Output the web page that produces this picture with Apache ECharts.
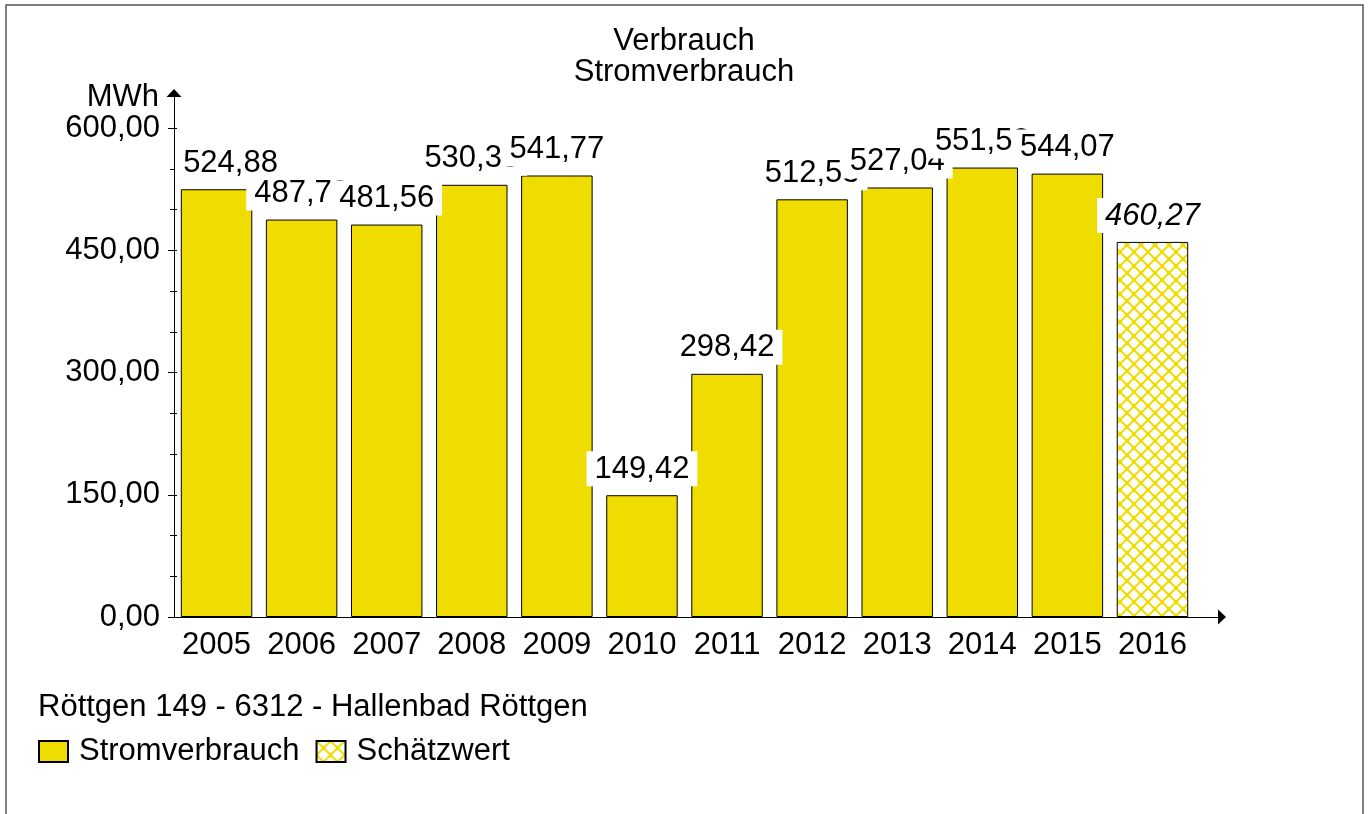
<!DOCTYPE html>
<html>
<head>
<meta charset="utf-8">
<script src="https://cdn.jsdelivr.net/npm/echarts@6/dist/echarts.min.js"></script>
<style>
html, body { margin: 0; padding: 0; background: #fff; }
#chart { width: 1368px; height: 814px; }
</style>
</head>
<body>
<div id="chart"></div>
<script>
// Daten
const years = ['2005', '2006', '2007', '2008', '2009', '2010', '2011', '2012', '2013', '2014', '2015', '2016'];
const consumption = [524.88, 487.73, 481.56, 530.35, 541.77, 149.42, 298.42, 512.53, 527.04, 551.52, 544.07, 460.27];
const estimated = [false, false, false, false, false, false, false, false, false, false, false, true];

const FONT = "'Liberation Sans', Arial, sans-serif";
const FS = 31;
const YELLOW = '#EFDC00';

// Schraffur fuer Schaetzwert
function hatch() {
    const c = document.createElement('canvas');
    c.width = 14; c.height = 14;
    const g = c.getContext('2d');
    g.fillStyle = '#fff';
    g.fillRect(0, 0, 14, 14);
    g.strokeStyle = YELLOW;
    g.lineWidth = 2;
    g.beginPath();
    g.moveTo(-1, -1); g.lineTo(15, 15);
    g.moveTo(15, -1); g.lineTo(-1, 15);
    g.stroke();
    g.fillStyle = YELLOW;
    [[7, 7], [0, 0], [14, 0], [0, 14], [14, 14]].forEach(p => {
        g.beginPath(); g.arc(p[0], p[1], 2.2, 0, Math.PI * 2); g.fill();
    });
    return { image: c, repeat: 'repeat' };
}

const fmt = v => Number(v).toFixed(2).replace('.', ',');

const measured = consumption.map((v, i) => estimated[i] ? null : v);
const guessed = consumption.map((v, i) => estimated[i] ? v : null);

const labelBase = {
    show: true,
    position: 'top',
    distance: 9,
    fontFamily: FONT,
    fontSize: FS,
    lineHeight: 30,
    color: '#000',
    backgroundColor: '#fff',
    padding: [3, 8, 2, 8],
    formatter: p => fmt(p.value)
};

const chart = echarts.init(document.getElementById('chart'));
chart.setOption({
    animation: false,
    backgroundColor: '#fff',
    textStyle: { fontFamily: FONT },
    title: {
        text: 'Verbrauch',
        subtext: 'Stromverbrauch',
        left: 'center',
        top: 26,
        padding: 0,
        itemGap: 0,
        textStyle: { fontFamily: FONT, fontSize: FS, fontWeight: 'normal', color: '#000', lineHeight: 30 },
        subtextStyle: { fontFamily: FONT, fontSize: FS, color: '#000', lineHeight: 30 }
    },
    graphic: [
        {
            type: 'rect',
            shape: { x: 6, y: 5, width: 1357, height: 840 },
            style: { fill: null, stroke: '#555', lineWidth: 1.5 },
            silent: true
        },
        {
            type: 'text',
            left: 38,
            top: 692,
            style: { text: 'Röttgen 149 - 6312 - Hallenbad Röttgen', font: FS + 'px ' + FONT, fill: '#000' }
        }
    ],
    legend: {
        left: 33,
        top: 731,
        icon: 'rect',
        itemWidth: 29,
        itemHeight: 21,
        itemGap: 16,
        textStyle: { fontFamily: FONT, fontSize: FS, color: '#000', padding: [0, 0, 0, 6] },
        data: ['Stromverbrauch', 'Schätzwert']
    },
    grid: [
        { left: 174, right: 173, top: 93, bottom: 197 },
        { left: 174, right: 146, top: 93, bottom: 197 }
    ],
    xAxis: [
        {
            type: 'category',
            gridIndex: 0,
            data: years,
            axisLine: { show: false },
            axisTick: { alignWithLabel: true, length: 4, lineStyle: { color: '#000' } },
            axisLabel: { fontFamily: FONT, fontSize: FS, color: '#000', margin: 13, interval: 0 }
        },
        {
            type: 'value',
            gridIndex: 1,
            min: 0,
            max: 1,
            axisLine: { show: true, symbol: ['none', 'triangle'], symbolSize: [15, 8], lineStyle: { color: '#000', width: 1 } },
            axisTick: { show: false },
            axisLabel: { show: false },
            splitLine: { show: false }
        }
    ],
    yAxis: [
        {
            type: 'value',
            gridIndex: 0,
            position: 'left',
            min: 0,
            max: 643,
            interval: 150,
            name: 'MWh',
            nameLocation: 'end',
            nameGap: 3,
            nameTextStyle: { fontFamily: FONT, fontSize: FS, color: '#000', align: 'right', verticalAlign: 'top', padding: [0, 15, 0, 0] },
            axisLine: { show: true, symbol: ['none', 'triangle'], symbolSize: [15, 8], lineStyle: { color: '#000', width: 1 } },
            axisTick: { show: true, length: 6, lineStyle: { color: '#000' } },
            axisLabel: { fontFamily: FONT, fontSize: FS, color: '#000', margin: 14, showMaxLabel: false, formatter: v => v > 600 ? '' : fmt(v) },
            splitLine: { show: false }
        },
        {
            type: 'value',
            gridIndex: 0,
            position: 'left',
            min: 0,
            max: 643,
            interval: 50,
            axisLine: { show: false },
            axisTick: { show: true, length: 4, lineStyle: { color: '#000' } },
            axisLabel: { show: false },
            splitLine: { show: false }
        },
        {
            type: 'value',
            gridIndex: 0,
            position: 'left',
            min: 0,
            max: 643,
            interval: 50,
            axisLine: { show: false },
            axisTick: { show: true, inside: true, length: 3, lineStyle: { color: '#000' } },
            axisLabel: { show: false },
            splitLine: { show: false }
        },
        { type: 'value', gridIndex: 1, show: false }
    ],
    series: [
        {
            name: 'Stromverbrauch',
            type: 'bar',
            stack: 'v',
            xAxisIndex: 0,
            yAxisIndex: 0,
            barCategoryGap: '16%',
            itemStyle: { color: YELLOW, borderColor: '#000', borderWidth: 1 },
            label: labelBase,
            data: measured.map((v, i) => i === 0 ? { value: v, label: { offset: [14, 0] } } : v)
        },
        {
            name: 'Schätzwert',
            type: 'bar',
            stack: 'v',
            xAxisIndex: 0,
            yAxisIndex: 0,
            barCategoryGap: '16%',
            itemStyle: { color: hatch(), borderColor: '#000', borderWidth: 1 },
            label: Object.assign({}, labelBase, { fontStyle: 'italic' }),
            data: guessed
        }
    ]
});
</script>
</body>
</html>
